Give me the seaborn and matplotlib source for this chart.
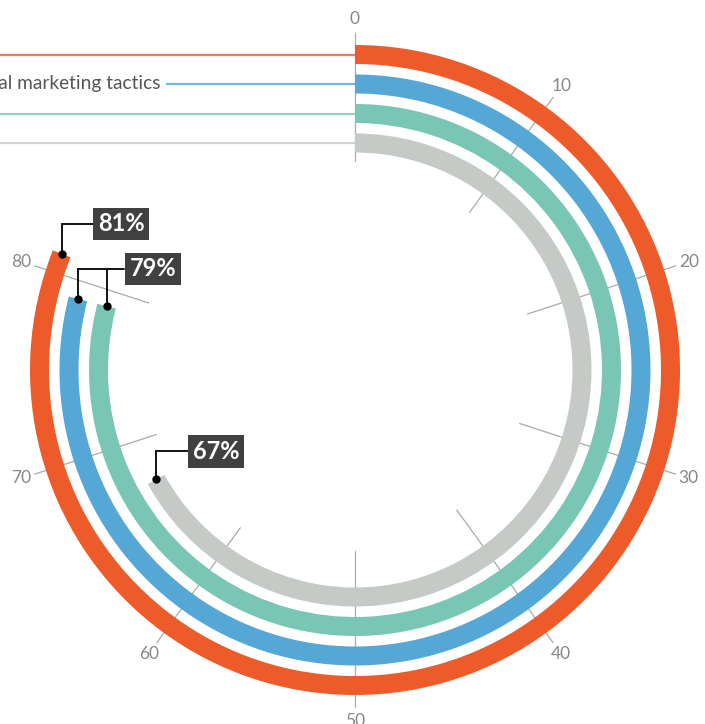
import numpy as np
import seaborn as sns
import matplotlib.pyplot as plt

# data
categories = ["Content marketing", "Traditional marketing tactics", "Social media marketing", "Email marketing"]
values = [81, 79, 79, 67]
ticks = [0, 10, 20, 30, 40, 50, 60, 70, 80]
colors = ["#EC5B29", "#55A7D6", "#79C6B4", "#C5CAC6"]

sns.set_theme(style="white")
plt.rcParams['font.family'] = ['Lato', 'DejaVu Sans']

W, H = 705, 724
CX, CY = 355, 370      # centre of the rings in pixels
R = 370                # polar radius in pixels
ring_inner = [306 - 29.5 * i for i in range(len(values))]
ring_w = 19

fig = plt.figure(figsize=(W / 100, H / 100), dpi=100)
ax = fig.add_axes([(CX - R) / W, (H - CY - R) / H, 2 * R / W, 2 * R / H], projection='polar')
ax.set_theta_zero_location('N')
ax.set_theta_direction(-1)
ax.set_rlim(0, R)
ax.set_axis_off()

pal = sns.color_palette(colors)

# radial tick lines
for t in ticks:
    th = t / 100 * 2 * np.pi
    r0 = 195 + 23 * np.cos(th - np.radians(306))
    ax.plot([th, th], [r0, 337], color="#aaaaaa", lw=0.9, zorder=1)
    ax.text(th, 351, str(t), ha='center', va='center', fontsize=12.5, color="#888888")

# bars
for i, v in enumerate(values):
    ax.bar(0, ring_w, width=v / 100 * 2 * np.pi, bottom=ring_inner[i], align='edge',
           color=pal[i], edgecolor='none', zorder=2)

# overlay in pixel coordinates
ov = fig.add_axes([0, 0, 1, 1])
ov.set_xlim(0, W)
ov.set_ylim(H, 0)
ov.set_axis_off()
ov.patch.set_alpha(0)

# legend lines on the left
line_start = [-10, 166, -10, -10]
for i, name in enumerate(categories):
    y = CY - (ring_inner[i] + ring_w / 2)
    ov.plot([line_start[i], CX], [y, y], color=pal[i], lw=1.6, alpha=0.8, zorder=1,
            solid_capstyle='butt')
    if line_start[i] > 0:
        ov.text(line_start[i] - 6, y, name, ha='right', va='center', fontsize=13.8, color="#555555")

# value callouts
def end_point(i):
    th = values[i] / 100 * 2 * np.pi
    r = ring_inner[i] + ring_w / 2
    return CX + r * np.sin(th), CY - r * np.cos(th)

offsets = {81: (31, -30), 79: (46.5, -30), 67: (32, -28)}
for v in dict.fromkeys(values):
    idx = [i for i, vv in enumerate(values) if vv == v]
    x0, y0 = end_point(idx[0])
    dx, dy = offsets[v]
    ye = y0 + dy
    xb = x0 + dx
    for i in idx:
        x, y = end_point(i)
        ov.plot([x, x], [y, ye], color="black", lw=1.3, zorder=3)
        ov.plot(x, y, 'o', color="black", ms=5, zorder=4)
    ov.plot([x0, xb], [ye, ye], color="black", lw=1.3, zorder=3)
    ov.text(xb + 5, ye, f"{v}%", ha='left', va='center', fontsize=17, fontweight='bold',
            color="white", zorder=5,
            bbox=dict(boxstyle="square,pad=0.2", facecolor="#404040", edgecolor='none'))

fig.savefig("out.png", dpi=100)
